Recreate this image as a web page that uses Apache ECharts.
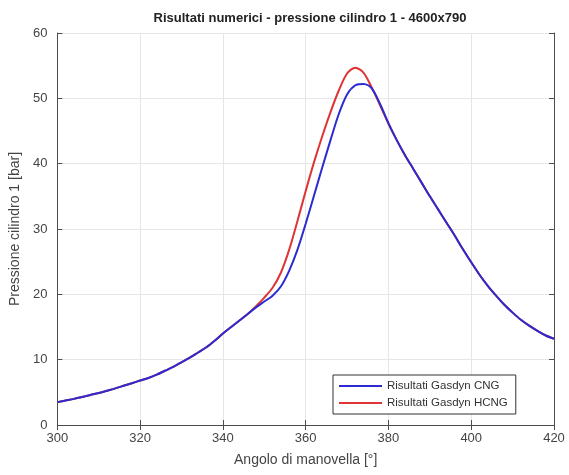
<!DOCTYPE html>
<html>
<head>
<meta charset="utf-8">
<script src="https://cdn.jsdelivr.net/npm/echarts@6/dist/echarts.min.js"></script>
<style>
  html, body { margin: 0; padding: 0; background: #fff; }
  #chart { width: 569px; height: 475px; }
</style>
</head>
<body>
<div id="chart"></div>
<script>
// angolo di manovella [deg]
var angles = [300, 302, 304, 306, 308, 310, 312, 314, 316, 318,
              320, 322, 324, 326, 328, 330, 332, 334, 336, 338,
              340, 342, 344, 346, 348, 350, 352, 354, 356, 358,
              360, 362, 364, 366, 368, 370, 372, 374, 376, 378,
              380, 382, 384, 386, 388, 390, 392, 394, 396, 398,
              400, 402, 404, 406, 408, 410, 412, 414, 416, 418, 420];

// pressione [bar] - Gasdyn CNG
var cngValues = [3.5, 3.75, 4.0, 4.3, 4.6, 4.9, 5.25, 5.6, 6.0, 6.4,
                 6.8, 7.2, 7.7, 8.3, 8.9, 9.6, 10.3, 11.1, 11.9, 12.9,
                 14.0, 15.0, 16.0, 17.0, 18.0, 18.9, 19.8, 21.2, 23.6, 26.8,
                 30.8, 35.1, 39.4, 43.6, 47.6, 50.6, 52.0, 52.2, 51.5, 49.1,
                 46.2, 43.6, 41.3, 39.2, 37.1, 35.0, 33.0, 31.0, 29.0, 26.9,
                 24.9, 23.0, 21.3, 19.8, 18.4, 17.2, 16.1, 15.2, 14.4, 13.7, 13.2];

// pressione [bar] - Gasdyn HCNG
var hcngValues = [3.5, 3.75, 4.0, 4.3, 4.6, 4.9, 5.25, 5.6, 6.0, 6.4,
                  6.8, 7.2, 7.7, 8.3, 8.9, 9.6, 10.3, 11.1, 11.9, 12.9,
                  14.0, 15.0, 16.0, 17.0, 18.2, 19.5, 21.0, 23.3, 26.8, 31.2,
                  35.8, 40.2, 44.2, 47.9, 51.2, 53.8, 54.7, 53.9, 51.6, 48.9,
                  46.1, 43.6, 41.3, 39.2, 37.1, 35.0, 33.0, 31.0, 29.0, 26.9,
                  24.9, 23.0, 21.3, 19.8, 18.4, 17.2, 16.1, 15.2, 14.4, 13.7, 13.2];

var xTicks = [300, 320, 340, 360, 380, 400, 420];
var yTicks = [0, 10, 20, 30, 40, 50, 60];

var seriesNames = ['Risultati Gasdyn CNG', 'Risultati Gasdyn HCNG'];

function pairs(xs, ys) {
    return xs.map(function (x, i) { return [x, ys[i]]; });
}

var axisColor = '#4d4d4d';
var labelColor = '#444';
var font = 'Liberation Sans, Arial, sans-serif';

var myChart = echarts.init(document.getElementById('chart'));

var option = {
    animation: false,
    backgroundColor: '#fff',
    title: {
        text: 'Risultati numerici - pressione cilindro 1 - 4600x790',
        left: 305,
        top: 7,
        textAlign: 'center',
        textStyle: { fontFamily: font, fontSize: 13, fontWeight: 'bold', color: '#222' }
    },
    grid: { left: 57, right: 15, top: 33, bottom: 50, show: false },
    legend: {
        data: seriesNames,
        orient: 'vertical',
        left: 333,
        top: 375,
        itemWidth: 43,
        itemHeight: 2,
        itemGap: 5,
        icon: 'rect',
        padding: [5, 8, 5, 6],
        borderColor: '#333',
        borderWidth: 1,
        backgroundColor: '#fff',
        textStyle: { fontFamily: font, fontSize: 11.5, color: '#333' }
    },
    xAxis: [{
        type: 'value',
        min: xTicks[0], max: xTicks[xTicks.length - 1], interval: 20,
        name: 'Angolo di manovella [°]',
        nameLocation: 'middle',
        nameGap: 28,
        nameTextStyle: { fontFamily: font, fontSize: 14, color: labelColor },
        axisLine: { show: true, onZero: false, lineStyle: { color: axisColor } },
        axisTick: { show: true, inside: true, length: 5, lineStyle: { color: axisColor } },
        axisLabel: { fontFamily: font, fontSize: 13, color: labelColor, margin: 7 },
        splitLine: { show: true, lineStyle: { color: '#e6e6e6' } }
    }, {
        type: 'value',
        position: 'top',
        min: xTicks[0], max: xTicks[xTicks.length - 1], interval: 20,
        axisLine: { show: true, lineStyle: { color: axisColor } },
        axisTick: { show: true, inside: true, length: 5, lineStyle: { color: axisColor } },
        axisLabel: { show: false },
        splitLine: { show: false }
    }],
    yAxis: [{
        type: 'value',
        min: yTicks[0], max: yTicks[yTicks.length - 1], interval: 10,
        name: 'Pressione cilindro 1 [bar]',
        nameLocation: 'middle',
        nameGap: 33,
        nameTextStyle: { fontFamily: font, fontSize: 14, color: labelColor },
        axisLine: { show: true, onZero: false, lineStyle: { color: axisColor } },
        axisTick: { show: true, inside: true, length: 5, lineStyle: { color: axisColor } },
        axisLabel: { fontFamily: font, fontSize: 13, color: labelColor, margin: 10 },
        splitLine: { show: true, lineStyle: { color: '#e6e6e6' } }
    }, {
        type: 'value',
        position: 'right',
        min: yTicks[0], max: yTicks[yTicks.length - 1], interval: 10,
        axisLine: { show: true, lineStyle: { color: axisColor } },
        axisTick: { show: true, inside: true, length: 5, lineStyle: { color: axisColor } },
        axisLabel: { show: false },
        splitLine: { show: false }
    }],
    series: [{
        name: seriesNames[0],
        type: 'line',
        data: pairs(angles, cngValues),
        smooth: 0.3,
        symbol: 'none',
        z: 3,
        lineStyle: { color: '#2b2bd0', width: 2 },
        itemStyle: { color: '#2b2bd0' }
    }, {
        name: seriesNames[1],
        type: 'line',
        data: pairs(angles, hcngValues),
        smooth: 0.3,
        symbol: 'none',
        z: 2,
        lineStyle: { color: '#e03434', width: 2 },
        itemStyle: { color: '#e03434' }
    }]
};

myChart.setOption(option);
</script>
</body>
</html>
